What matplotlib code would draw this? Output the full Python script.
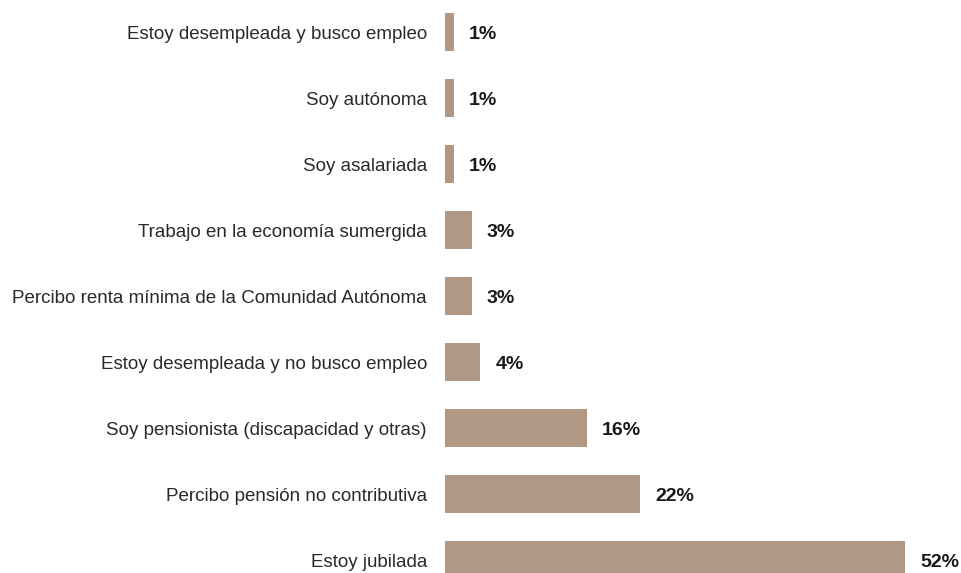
import matplotlib.pyplot as plt

plt.rcParams['font.family'] = ['Liberation Sans', 'DejaVu Sans']

categories = [
    "Estoy desempleada y busco empleo",
    "Soy autónoma",
    "Soy asalariada",
    "Trabajo en la economía sumergida",
    "Percibo renta mínima de la Comunidad Autónoma",
    "Estoy desempleada y no busco empleo",
    "Soy pensionista (discapacidad y otras)",
    "Percibo pensión no contributiva",
    "Estoy jubilada",
]
values = [1, 1, 1, 3, 3, 4, 16, 22, 52]
value_labels = ["1%", "1%", "1%", "3%", "3%", "4%", "16%", "22%", "52%"]

bar_color = "#b09884"

fig = plt.figure(figsize=(9.62, 5.73), dpi=100)
left = 445 / 962
ax = fig.add_axes([left, 0, 1 - left, 1])

ypos = list(range(len(categories)))
ax.barh(ypos, values, height=38 / 66, color=bar_color)

for y, v, lab, cat in zip(ypos, values, value_labels, categories):
    ax.annotate(lab, (v, y), xytext=(11, -1.5), textcoords="offset points",
                va="center", ha="left", fontsize=14, fontweight="bold",
                color="#1a1a1a")
    ax.annotate(cat, (0, y), xytext=(-13, -1.5), textcoords="offset points",
                va="center", ha="right", fontsize=13.5, color="#2a2a2a",
                annotation_clip=False)

ax.set_xlim(0, 517 / 8.85)
ax.set_ylim((573 - 32) / 66, -32 / 66)
ax.axis("off")

fig.savefig("out.png", dpi=100)
